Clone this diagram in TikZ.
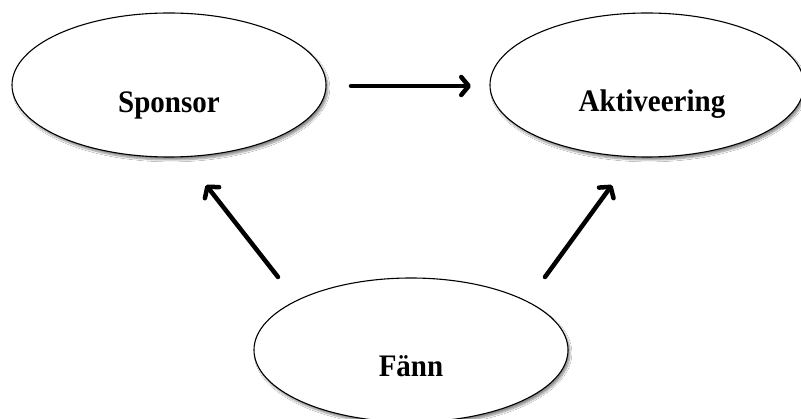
\documentclass[tikz,border=0pt]{standalone}
\usepackage{fontspec}
\setmainfont{Liberation Serif}
\usetikzlibrary{shapes.geometric,arrows.meta,shadows.blur}
\tikzset{
  bubble/.style={ellipse, draw=black, line width=1.1pt, fill=white, inner sep=0pt,
    minimum width=314pt, minimum height=144pt,
    blur shadow={shadow xshift=2pt, shadow yshift=-3pt, shadow blur steps=6, shadow opacity=45}},
  lbl/.style={font=\fontsize{29}{31}\selectfont\bfseries, inner sep=0pt, anchor=base, yscale=1.08, transform shape},
  conn/.style={line width=4.5pt, line cap=round,
    -{Straight Barb[length=7.5pt,width=18pt,line cap=round,line join=round]}}
}
\begin{document}
\begin{tikzpicture}[x=1pt,y=-1pt]
\useasboundingbox[fill=white] (0,0) rectangle (801,419);
\node[bubble] (sp) at (169,85) {};
\node[bubble] (ak) at (647,85) {};
\node[bubble] (fa) at (411,350) {};
\node[lbl] (tsp) at ([yshift=-28pt]sp.center) {Sponsor};
\node[lbl] (tak) at ([xshift=5pt,yshift=-27pt]ak.center) {Aktiveering};
\node[lbl] (tfa) at ([yshift=-27pt]fa.center) {Fänn};
\coordinate (a1s) at (351,86);
\coordinate (a1e) at (471,86);
\coordinate (a2s) at (278,277);
\coordinate (a2e) at (206,185);
\coordinate (a3s) at (545,277);
\coordinate (a3e) at (612,185);
\draw[conn] (a1s) -- (a1e);
\draw[conn] (a2s) -- (a2e);
\draw[conn] (a3s) -- (a3e);
\end{tikzpicture}
\end{document}
